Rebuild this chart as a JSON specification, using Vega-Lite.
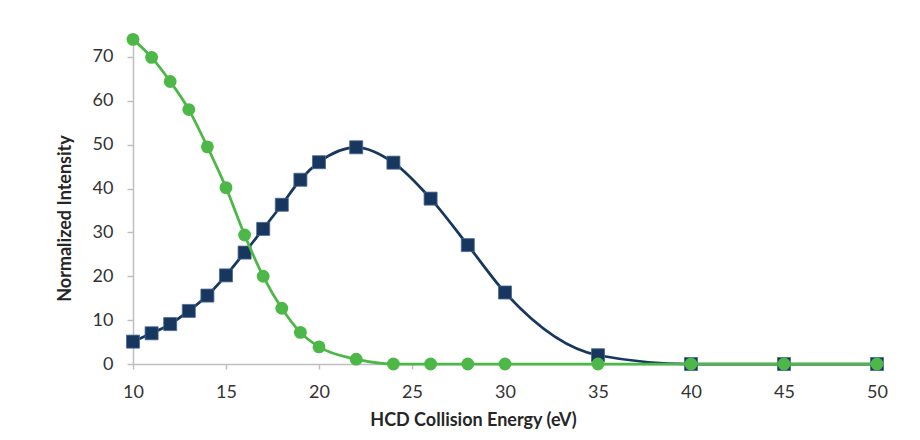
{
  "$schema": "https://vega.github.io/schema/vega-lite/v6.json",
  "autosize": "none",
  "width": 744,
  "height": 329,
  "padding": {"left": 133, "top": 35, "right": 43, "bottom": 76},
  "background": "white",
  "config": {
    "view": {"stroke": null},
    "font": "Lato",
    "axis": {
      "grid": false,
      "domainColor": "#BFBFBF",
      "domainWidth": 1.5,
      "tickColor": "#BFBFBF",
      "tickWidth": 1.5,
      "labelFont": "Lato",
      "labelFontSize": 18,
      "labelColor": "#333333",
      "labelFlush": false,
      "titleFont": "Lato",
      "titleFontSize": 18,
      "titleFontWeight": "bold",
      "titleColor": "#262626"
    }
  },
  "data": {
    "values": [
      {"energy": 10, "series": "A", "intensity": 5.1},
      {"energy": 11, "series": "A", "intensity": 7.0},
      {"energy": 12, "series": "A", "intensity": 9.1},
      {"energy": 13, "series": "A", "intensity": 12.1},
      {"energy": 14, "series": "A", "intensity": 15.6},
      {"energy": 15, "series": "A", "intensity": 20.2},
      {"energy": 16, "series": "A", "intensity": 25.4},
      {"energy": 17, "series": "A", "intensity": 30.8},
      {"energy": 18, "series": "A", "intensity": 36.3},
      {"energy": 19, "series": "A", "intensity": 42.0},
      {"energy": 20, "series": "A", "intensity": 46.0},
      {"energy": 22, "series": "A", "intensity": 49.4},
      {"energy": 24, "series": "A", "intensity": 45.9},
      {"energy": 26, "series": "A", "intensity": 37.7},
      {"energy": 28, "series": "A", "intensity": 27.1},
      {"energy": 30, "series": "A", "intensity": 16.3},
      {"energy": 35, "series": "A", "intensity": 2.0},
      {"energy": 40, "series": "A", "intensity": 0},
      {"energy": 45, "series": "A", "intensity": 0},
      {"energy": 50, "series": "A", "intensity": 0},
      {"energy": 10, "series": "B", "intensity": 74.0},
      {"energy": 11, "series": "B", "intensity": 69.9},
      {"energy": 12, "series": "B", "intensity": 64.4},
      {"energy": 13, "series": "B", "intensity": 58.0},
      {"energy": 14, "series": "B", "intensity": 49.5},
      {"energy": 15, "series": "B", "intensity": 40.2},
      {"energy": 16, "series": "B", "intensity": 29.4},
      {"energy": 17, "series": "B", "intensity": 20.0},
      {"energy": 18, "series": "B", "intensity": 12.7},
      {"energy": 19, "series": "B", "intensity": 7.2},
      {"energy": 20, "series": "B", "intensity": 3.9},
      {"energy": 22, "series": "B", "intensity": 1.1},
      {"energy": 24, "series": "B", "intensity": 0},
      {"energy": 26, "series": "B", "intensity": 0},
      {"energy": 28, "series": "B", "intensity": 0},
      {"energy": 30, "series": "B", "intensity": 0},
      {"energy": 35, "series": "B", "intensity": 0},
      {"energy": 40, "series": "B", "intensity": 0},
      {"energy": 45, "series": "B", "intensity": 0},
      {"energy": 50, "series": "B", "intensity": 0}
    ]
  },
  "encoding": {
    "x": {
      "field": "energy",
      "type": "quantitative",
      "scale": {"domain": [10, 50], "nice": false, "zero": false},
      "axis": {
        "values": [10, 15, 20, 25, 30, 35, 40, 45, 50],
        "title": "HCD Collision Energy (eV)",
        "tickSize": 5,
        "labelPadding": 14,
        "titleX": 340,
        "titleY": 61,
        "titleBaseline": "alphabetic",
        "titleAnchor": null
      }
    },
    "y": {
      "field": "intensity",
      "type": "quantitative",
      "scale": {"domain": [0, 75], "nice": false},
      "axis": {
        "values": [0, 10, 20, 30, 40, 50, 60, 70],
        "title": "Normalized Intensity",
        "tickSize": 6,
        "labelPadding": 14,
        "titleX": -63,
        "titleY": 183,
        "titleAngle": -90,
        "titleAlign": "center",
        "titleBaseline": "alphabetic"
      }
    }
  },
  "layer": [
    {
      "transform": [{"filter": "datum.series === 'A'"}],
      "layer": [
        {"mark": {"type": "line", "color": "#17375E", "strokeWidth": 2.75, "interpolate": "monotone"}},
        {"mark": {"type": "point", "shape": "square", "filled": true, "color": "#17375E", "opacity": 1, "size": 170, "stroke": "#4A6A95", "strokeWidth": 0.8}}
      ]
    },
    {
      "transform": [{"filter": "datum.series === 'B'"}],
      "layer": [
        {"mark": {"type": "line", "color": "#4DB848", "strokeWidth": 2.75, "interpolate": "monotone"}},
        {"mark": {"type": "point", "shape": "circle", "filled": true, "color": "#4DB848", "opacity": 1, "size": 165}}
      ]
    }
  ]
}
